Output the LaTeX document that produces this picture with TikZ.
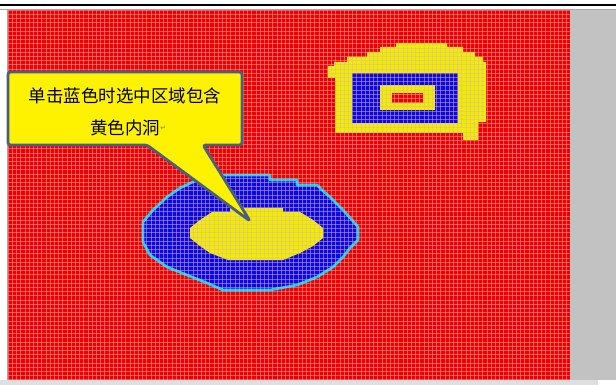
\documentclass[tikz,border=0pt]{standalone}
\usepackage{fontspec}
\newfontfamily\cjk{Noto Sans CJK SC}
\newfontfamily\djv{DejaVu Sans}
\definecolor{gridred}{HTML}{F20000}
\definecolor{blobblue}{HTML}{0A0AE6}
\definecolor{shapeyellow}{HTML}{EEEE00}
\definecolor{outlinecyan}{HTML}{00D8FF}
\definecolor{calloutedge}{HTML}{4A5F7E}
\definecolor{panelgray}{HTML}{C2C2C2}
\definecolor{gridline}{HTML}{E8B0B0}
\tikzset{
  gridln/.style={draw=gridline, line width=0.5pt, opacity=0.5},
  callout/.style={fill=yellow, draw=calloutedge, line width=2.8pt, rounded corners=2.5pt, line join=round},
  calltext/.style={font=\cjk\fontsize{17.5}{20}\selectfont, text=black, inner sep=0pt}
}
\begin{document}
\begin{tikzpicture}[x=1pt,y=-1pt]
\useasboundingbox (0,0) rectangle (616,385);
\fill[white] (0,0) rectangle (616,385);
% window chrome
\draw[black, line width=2.4pt] (0,5) -- (616,5);
\draw[gray!70, line width=0.8pt] (0,9.8) -- (616,9.8);
\fill[panelgray] (570,10) rectangle (616,380);
\fill[gray!25] (0,380) rectangle (598,385);
\draw[gray!70, line width=0.6pt] (7.5,10) -- (7.5,380);
% red field
\fill[gridred] (8,10) rectangle (570,380);
% camera-like shape
\fill[shapeyellow] (396,43) -- (447,43) -- (447,47) -- (463,47) -- (463,52) -- (475,52) -- (475,57) -- (483,57) -- (483,62) -- (486,62) -- (486,122) -- (478,122) -- (478,140) -- (463,140) -- (463,133) -- (335,133) -- (335,78) -- (328,78) -- (328,66) -- (334,66) -- (334,62) -- (347,62) -- (347,57) -- (367,57) -- (367,52) -- (380,52) -- (380,47) -- (396,47) -- cycle;
\fill[blobblue] (352,73) rectangle (458,123);
\fill[shapeyellow] (380,85) rectangle (435,110);
\fill[gridred] (392,93) rectangle (423,103);
% blob
\filldraw[fill=blobblue, draw=outlinecyan, line width=2.6pt, line join=round]
  (210,175) -- (270,175) -- (270,180) -- (297,180) -- (297,185) -- (317,185) -- (322,190) -- (330,197) -- (343,210) -- (352,220) -- (358,227) -- (358,240) -- (350,248) -- (343,257) -- (333,267) -- (317,277) -- (297,285) -- (270,290) -- (223,290) -- (207,283) -- (187,275) -- (167,267) -- (150,255) -- (143,242) -- (143,222) -- (153,210) -- (167,197) -- (180,188) -- (197,180) -- (210,180) -- cycle;
\fill[shapeyellow] (230,208) -- (283,208) -- (283,212) -- (300,212) -- (313,220) -- (323,228) -- (323,238) -- (313,246) -- (300,253) -- (283,260) -- (228,260) -- (210,253) -- (200,246) -- (190,238) -- (190,228) -- (200,220) -- (212,212) -- (230,212) -- cycle;
% grid
\foreach \i in {0,...,133} {\draw[gridln] (8+\i*4.2,10) -- (8+\i*4.2,380);}
\foreach \j in {0,...,88} {\draw[gridln] (8,10+\j*4.2) -- (570,10+\j*4.2);}
% callout
\coordinate (tip) at (250,221);
\draw[callout] (8,72) -- (242,72) -- (242,145) -- (203,145) -- (tip) -- (147,145) -- (8,145) -- cycle;
\node[calltext] (l1) at (125,96) {单击蓝色时选中区域包含};
\node[calltext] (l2) at (125,128) {黄色内洞};
\node[font=\djv\fontsize{7}{8}\selectfont, text=gray, inner sep=0pt, anchor=west] (ret) at (l2.east) {↵};
\end{tikzpicture}
\end{document}
